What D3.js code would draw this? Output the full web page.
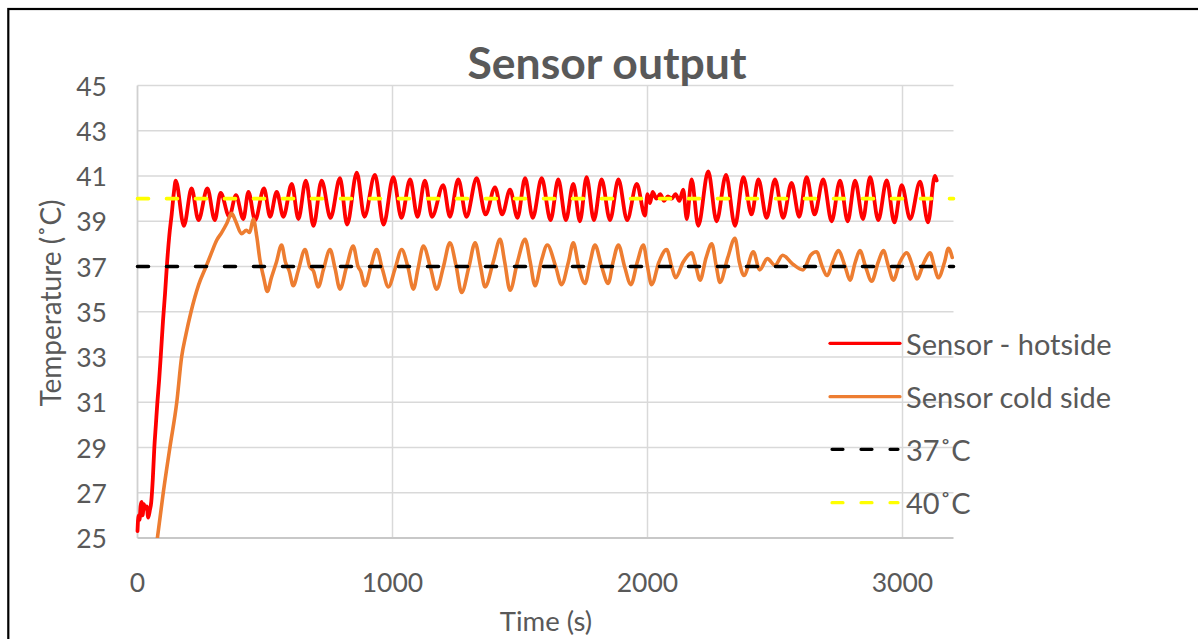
<!DOCTYPE html>
<html>
<head>
<meta charset="utf-8">
<script src="https://cdn.jsdelivr.net/npm/d3@7"></script>
<style>
  html, body { margin: 0; padding: 0; background: #fff; overflow: hidden; }
  svg { display: block; }
  text { font-family: Lato, "Open Sans", sans-serif; fill: #595959; }
</style>
</head>
<body>
<svg id="chart" width="1198" height="639"></svg>
<script>
// ---------------- DATA ----------------
const chartTitle = "Sensor output";
const xAxisTitle = "Time (s)";
const yAxisTitle = "Temperature (˚C)";
const xTicks = [0, 1000, 2000, 3000];
const yTicks = [25, 27, 29, 31, 33, 35, 37, 39, 41, 43, 45];
const seriesNames = ["Sensor - hotside", "Sensor cold side", "37˚C", "40˚C"];

// [time (s), temperature (˚C)]
const hotSide = [
  [0,25.3],[4,26.0],[8,25.8],[12,26.4],[16,26.6],[20,26.0],[25,26.5],[30,26.3],[36,26.4],[42,25.9],
  [48,26.2],[54,26.6],[60,27.6],[66,29.0],[72,30.0],[78,31.0],[85,32.0],[91,33.0],[100,34.6],[108,35.8],
  [115,37.0],[125,38.4],[134,39.3],[143,40.3],[150,40.8],
  [182,38.8],[212,40.45],[239,39.05],[274,40.45],[303,39.05],[326,40.25],[360,39.2],[386,40.15],[415,39.1],
  [435,40.3],[461,39.05],[496,40.45],[520,39.2],[546,40.3],[572,39.2],[605,40.65],[631,39.1],[660,40.8],
  [690,38.8],[722,40.8],[757,39.15],[794,40.9],[822,38.85],[860,41.15],[890,39.2],[931,41.05],[965,38.85],
  [1003,40.95],[1035,39.15],[1069,40.85],[1098,39.2],[1127,40.8],[1155,39.2],[1199,40.6],[1225,39.2],
  [1258,40.85],[1290,39.2],[1330,40.9],[1365,39.3],[1402,40.5],[1430,39.3],[1461,40.4],[1490,39.15],
  [1520,40.9],[1550,39.15],[1585,40.9],[1620,39.05],[1650,40.85],[1680,39.05],[1709,40.65],[1735,39.0],
  [1761,40.95],[1790,39.05],[1820,40.85],[1853,39.05],[1886,40.85],[1920,39.05],[1958,40.65],[1990,39.25],
  [2000,40.2],[2010,39.8],[2020,40.3],[2035,40.0],[2050,40.2],[2065,39.9],[2080,40.1],[2095,40.0],
  [2110,40.2],[2125,39.9],[2140,40.4],[2154,39.1],[2173,40.85],[2199,38.8],[2238,41.2],[2271,39.0],
  [2308,41.05],[2343,38.8],[2376,40.95],[2408,39.3],[2435,40.85],[2467,39.15],[2500,40.85],[2532,39.15],
  [2565,40.7],[2595,39.2],[2624,40.95],[2655,39.3],[2689,40.85],[2722,39.0],[2755,40.8],[2785,39.0],
  [2814,40.8],[2845,39.1],[2873,40.95],[2905,39.05],[2938,40.8],[2968,38.95],[2997,40.6],[3030,39.1],
  [3069,40.75],[3100,38.95],[3127,41.0],[3134,40.8]
];

const coldSide = [
  [78,25.0],[101,27.0],[127,29.0],[154,31.0],[173,33.0],[190,34.0],[210,35.0],[240,36.2],[269,37.0],
  [290,37.6],[310,38.15],[330,38.5],[350,38.9],[369,39.35],[385,39.0],[408,38.45],[427,38.6],[440,38.5],
  [454,39.1],[468,38.3],[480,37.3],[495,36.5],[509,35.9],[525,36.5],[545,37.2],[565,37.95],[580,37.2],
  [595,36.8],[611,36.15],[630,36.8],[657,37.75],[675,37.0],[690,36.8],[709,36.1],[730,36.9],[755,37.75],
  [775,36.9],[794,36.0],[820,37.0],[846,37.9],[865,37.0],[875,36.8],[892,36.15],[915,37.0],[938,37.75],
  [960,36.9],[984,36.1],[1010,36.9],[1036,37.75],[1060,37.0],[1082,36.0],[1100,36.9],[1121,37.9],
  [1150,36.9],[1173,36.0],[1200,37.0],[1225,38.05],[1250,37.0],[1271,35.85],[1300,37.0],[1324,38.05],
  [1345,37.0],[1363,36.1],[1395,37.2],[1422,38.2],[1440,37.2],[1461,35.95],[1490,37.2],[1520,38.2],
  [1540,37.2],[1559,36.15],[1585,37.3],[1607,37.95],[1640,37.0],[1663,36.2],[1690,37.2],[1709,38.05],
  [1730,37.0],[1755,36.25],[1775,37.2],[1794,37.95],[1820,37.0],[1846,36.25],[1865,37.2],[1886,37.95],
  [1910,37.0],[1935,36.2],[1960,37.2],[1984,37.95],[2000,37.0],[2016,36.2],[2045,37.2],[2075,37.75],
  [2095,37.0],[2110,36.5],[2140,37.2],[2173,37.6],[2190,37.0],[2206,36.4],[2230,37.4],[2252,38.0],
  [2270,37.0],[2284,36.3],[2315,37.4],[2343,38.25],[2360,37.2],[2378,36.6],[2415,37.65],[2440,36.85],
  [2470,37.35],[2500,37.05],[2530,37.5],[2570,37.1],[2610,36.85],[2640,37.5],[2663,37.65],[2685,37.0],
  [2703,36.6],[2730,37.3],[2748,37.7],[2775,37.0],[2794,36.4],[2815,37.2],[2833,37.7],[2855,37.0],
  [2879,36.35],[2905,37.2],[2925,37.7],[2945,37.0],[2964,36.4],[2990,37.2],[3016,37.6],[3040,37.0],
  [3056,36.45],[3085,37.2],[3108,37.6],[3125,37.0],[3140,36.5],[3165,37.2],[3180,37.8],[3195,37.4]
];

const ref37 = [[0,37],[3200,37]];
const ref40 = [[0,40],[3200,40]];

// ---------------- LAYOUT ----------------
const svg = d3.select("#chart");
const plot = { left: 137.5, right: 953.5, top: 85.5, bottom: 538 };

const x = d3.scaleLinear().domain([0, 3200]).range([plot.left, plot.right]);
const y = d3.scaleLinear().domain([25, 45]).range([plot.bottom, plot.top]);

// outer border
svg.append("rect")
  .attr("x", 8.3).attr("y", 9).attr("width", 1210).attr("height", 660)
  .attr("fill", "none").attr("stroke", "#000").attr("stroke-width", 2.2);

// gridlines
const grid = svg.append("g");
grid.selectAll("line.h").data(yTicks.filter(d => d > 25)).join("line")
  .attr("x1", plot.left).attr("x2", plot.right)
  .attr("y1", d => y(d)).attr("y2", d => y(d))
  .attr("stroke", "#d9d9d9").attr("stroke-width", 1.5);
grid.selectAll("line.v").data(xTicks.filter(d => d > 0)).join("line")
  .attr("y1", plot.top).attr("y2", plot.bottom)
  .attr("x1", d => x(d)).attr("x2", d => x(d))
  .attr("stroke", "#d9d9d9").attr("stroke-width", 1.5);
// axis lines
svg.append("line").attr("x1", x(0)).attr("x2", x(0)).attr("y1", plot.top).attr("y2", plot.bottom)
  .attr("stroke", "#d0d0d0").attr("stroke-width", 1.8);
svg.append("line").attr("x1", plot.left).attr("x2", plot.right).attr("y1", y(25)).attr("y2", y(25))
  .attr("stroke", "#c8c8c8").attr("stroke-width", 1.8);

// tick labels
svg.append("g").selectAll("text").data(yTicks).join("text")
  .attr("x", 107).attr("y", d => y(d))
  .attr("text-anchor", "end").attr("dominant-baseline", "central")
  .style("font-size", "26.5px").text(d => d);
svg.append("g").selectAll("text").data(xTicks).join("text")
  .attr("x", d => x(d)).attr("y", 582)
  .attr("text-anchor", "middle").attr("dominant-baseline", "central")
  .style("font-size", "26.5px").text(d => d);

// axis titles
svg.append("text").attr("x", 546).attr("y", 620)
  .attr("text-anchor", "middle").attr("dominant-baseline", "central")
  .style("font-size", "27.5px").text(xAxisTitle);
svg.append("text").attr("transform", "translate(50,303) rotate(-90)")
  .attr("text-anchor", "middle").attr("dominant-baseline", "central")
  .style("font-size", "28px").text(yAxisTitle);

// title
svg.append("text").attr("x", 607).attr("y", 61)
  .attr("text-anchor", "middle").attr("dominant-baseline", "central")
  .style("font-size", "44.5px").style("font-weight", "bold").text(chartTitle);

// series
const line = d3.line().x(d => x(d[0])).y(d => y(d[1])).curve(d3.curveMonotoneX);
svg.append("defs").append("clipPath").attr("id", "clip")
  .append("rect").attr("x", plot.left - 5).attr("y", plot.top - 10)
  .attr("width", plot.right - plot.left + 10).attr("height", plot.bottom - plot.top + 10);

const seriesG = svg.append("g").attr("clip-path", "url(#clip)");
const styles = [
  { data: hotSide, color: "#ff0000", width: 3.8, dash: null },
  { data: coldSide, color: "#ed7d31", width: 3.6, dash: null },
  { data: ref37, color: "#000000", width: 3.6, dash: "11,18" },
  { data: ref40, color: "#ffff00", width: 3.6, dash: "11,18" }
];
styles.forEach(s => {
  seriesG.append("path").datum(s.data)
    .attr("d", s.dash ? d3.line().x(d => x(d[0])).y(d => y(d[1])) : line)
    .attr("fill", "none")
    .attr("stroke", s.color)
    .attr("stroke-width", s.width)
    .attr("stroke-linejoin", "round")
    .attr("stroke-linecap", "round")
    .attr("stroke-dasharray", s.dash);
});

// legend
const legendY = [343.3, 396.7, 449.3, 502.7];
const leg = svg.append("g");
seriesNames.forEach((name, i) => {
  const s = styles[i];
  leg.append("line")
    .attr("x1", s.dash ? 832 : 830).attr("x2", s.dash ? 898 : 900)
    .attr("y1", legendY[i]).attr("y2", legendY[i])
    .attr("stroke", s.color).attr("stroke-width", 3.2)
    .attr("stroke-linecap", "round")
    .attr("stroke-dasharray", s.dash ? "11,18" : null);
  leg.append("text").attr("x", 906).attr("y", legendY[i])
    .attr("dominant-baseline", "central")
    .style("font-size", "29px").text(name);
});
</script>
</body>
</html>
